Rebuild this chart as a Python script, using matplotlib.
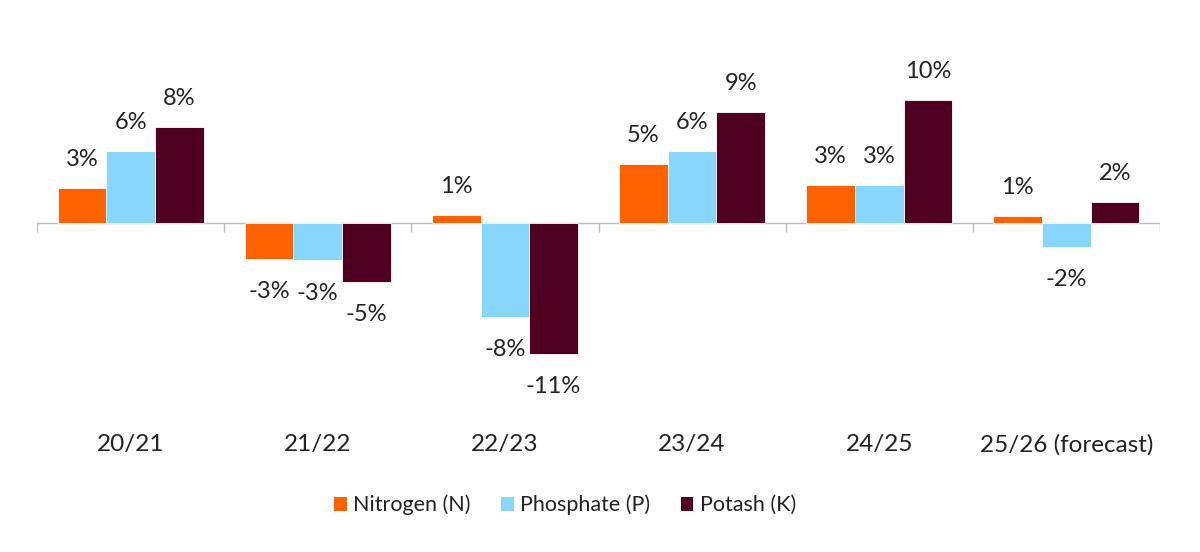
import numpy as np
import matplotlib.pyplot as plt
from matplotlib.patches import Patch

plt.rcParams['font.family'] = ['Lato', 'DejaVu Sans']

# Data (annual % change)
seasons = ['20/21', '21/22', '22/23', '23/24', '24/25', '25/26 (forecast)']
nitrogen = [2.9, -3.0, 0.7, 4.9, 3.2, 0.6]
phosphate = [6.0, -3.1, -7.8, 6.0, 3.2, -2.0]
potash = [8.0, -4.9, -10.9, 9.3, 10.3, 1.8]

series = [('Nitrogen (N)', nitrogen, '#FF6200'),
          ('Phosphate (P)', phosphate, '#89D6FD'),
          ('Potash (K)', potash, '#4F0021')]

text_col = '#222222'

fig = plt.figure(figsize=(12, 5.52), dpi=100)
ax = fig.add_axes([37 / 1200, 1 - 420 / 552, 1123 / 1200, 390 / 552])

x = np.arange(len(seasons))
w = 0.26
for i, (name, vals, col) in enumerate(series):
    pos = x + (i - 1) * w
    ax.bar(pos, vals, width=w, color=col, edgecolor='white', linewidth=0.6)
    for p, v in zip(pos, vals):
        if v >= 0:
            ax.annotate(f'{round(v)}%', (p, v), xytext=(0, 13), textcoords='offset points',
                        ha='center', va='bottom', fontsize=17, color=text_col)
        else:
            ax.annotate(f'{round(v)}%', (p, v), xytext=(0, -16), textcoords='offset points',
                        ha='center', va='top', fontsize=17, color=text_col)

ax.set_xlim(-0.5, len(seasons) - 0.5)
ax.set_ylim(-16.4, 16.1)

# zero line with boundary ticks
ax.axhline(0, color='#bbbbbb', lw=1, zorder=0)
bounds = np.arange(len(seasons) + 1) - 0.5
ax.vlines(bounds, -0.7, 0, color='#bbbbbb', lw=1, zorder=0)

for s in ax.spines.values():
    s.set_visible(False)
ax.set_yticks([])
ax.set_xticks(x)
ax.set_xticklabels(seasons, fontsize=17.5, color=text_col)
ax.tick_params(axis='x', length=0, pad=10)

handles = [Patch(facecolor=c, label=n) for n, _, c in series]
fig.legend(handles=handles, loc='center', bbox_to_anchor=(565 / 1200, 1 - 505 / 552), ncol=3,
           frameon=False, fontsize=15.5, handlelength=0.6, handleheight=0.6,
           handletextpad=0.3, columnspacing=1.4, labelcolor=text_col)

fig.savefig('out.png', dpi=100)
